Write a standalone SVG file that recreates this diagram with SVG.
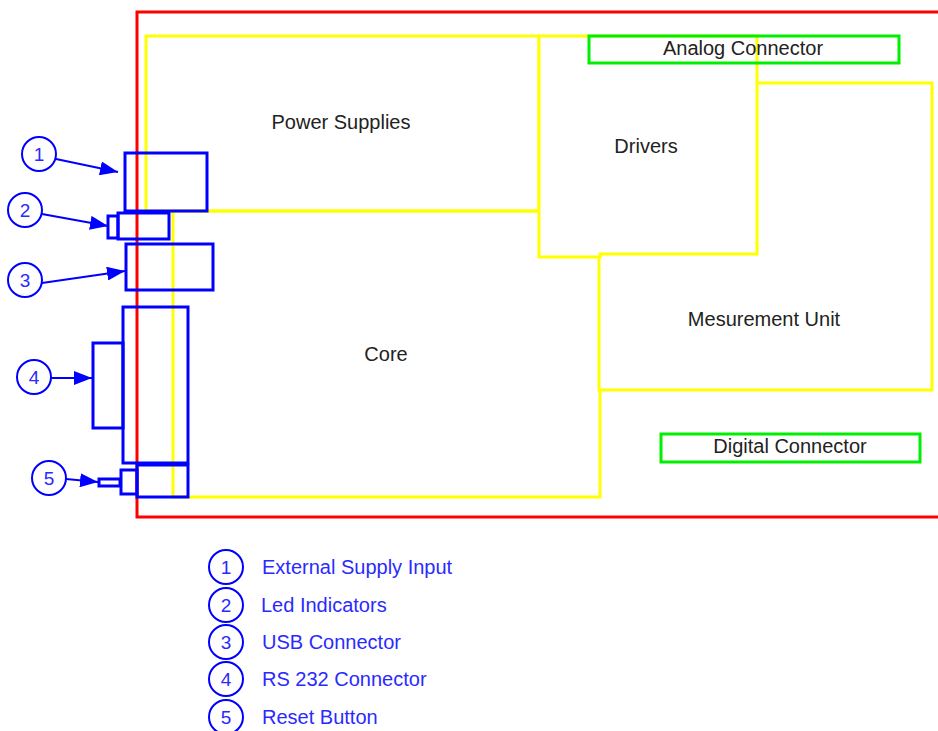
<svg xmlns="http://www.w3.org/2000/svg" width="938" height="731" viewBox="0 0 938 731">
<defs>
<marker id="ah" markerUnits="userSpaceOnUse" markerWidth="18" markerHeight="14" refX="18" refY="7" orient="auto">
<path d="M0,0 L18,7 L0,14 Z" fill="#0000ff"/>
</marker>
<style>
.red{fill:none;stroke:#ff0000;stroke-width:3}
.yel{fill:#ffffff;stroke:#ffff00;stroke-width:3}
.yeln{fill:none;stroke:#ffff00;stroke-width:3}
.grn{fill:none;stroke:#00ee00;stroke-width:3}
.blu{fill:none;stroke:#0000ff;stroke-width:3}
.lbl{font-family:"Liberation Sans",Arial,sans-serif;font-size:20px;fill:#222222;text-anchor:middle}
.num{font-family:"Liberation Sans",Arial,sans-serif;font-size:19px;fill:#2a2aff;text-anchor:middle}
.leg{font-family:"Liberation Sans",Arial,sans-serif;font-size:20px;fill:#2a2aff}
.cir{fill:#ffffff;stroke:#0000ff;stroke-width:2}
.con{fill:none;stroke:#0000ff;stroke-width:2;marker-end:url(#ah)}
</style>
</defs>
<rect width="938" height="731" fill="#ffffff"/>
<g id="board"><rect class="red" x="137" y="12" width="820" height="505"/></g>
<g id="core"><rect class="yel" x="173" y="211" width="427" height="286"/><text class="lbl" x="386" y="361">Core</text></g>
<g id="measurement"><rect class="yel" x="599" y="83" width="333" height="307"/><text class="lbl" x="764" y="326">Mesurement Unit</text></g>
<g id="power"><rect class="yeln" x="146" y="36" width="393" height="175"/><text class="lbl" x="341" y="129">Power Supplies</text></g>
<g id="drivers"><path class="yel" d="M539,36 H757 V254 H600 V257 H539 Z"/><text class="lbl" x="646" y="153">Drivers</text></g>
<g id="analog"><rect class="grn" x="589" y="36" width="310" height="27"/><text class="lbl" x="743" y="55">Analog Connector</text></g>
<g id="digital"><rect class="grn" x="661" y="434" width="259" height="28"/><text class="lbl" x="790" y="453">Digital Connector</text></g>
<g id="supply"><rect class="blu" x="125" y="153" width="82" height="58"/></g>
<g id="leds"><rect class="blu" x="108" y="216" width="10" height="22"/><rect class="blu" x="118" y="213" width="51" height="26"/></g>
<g id="usb"><rect class="blu" x="126" y="244" width="87" height="46"/></g>
<g id="rs232"><rect class="blu" x="93" y="343" width="30" height="85"/><rect class="blu" x="123" y="307" width="65" height="156"/></g>
<g id="reset"><rect class="blu" x="99" y="479" width="21" height="7"/><rect class="blu" x="121" y="470" width="16" height="24"/><rect class="blu" x="137" y="465" width="51" height="32"/></g>
<g id="connectors">
<line class="con" x1="56" y1="159" x2="118" y2="172"/>
<line class="con" x1="42" y1="214" x2="108" y2="226"/>
<line class="con" x1="42" y1="283" x2="125" y2="271"/>
<line class="con" x1="51" y1="378" x2="92" y2="378"/>
<line class="con" x1="66" y1="479" x2="98" y2="482"/>
</g>
<g id="c1"><circle class="cir" cx="39" cy="154" r="17"/><text class="num" x="39" y="161">1</text></g>
<g id="c2"><circle class="cir" cx="25" cy="210" r="17"/><text class="num" x="25" y="217">2</text></g>
<g id="c3"><circle class="cir" cx="25" cy="280" r="17"/><text class="num" x="25" y="287">3</text></g>
<g id="c4"><circle class="cir" cx="34" cy="377" r="17"/><text class="num" x="34" y="384">4</text></g>
<g id="c5"><circle class="cir" cx="49" cy="478" r="17"/><text class="num" x="49" y="485">5</text></g>
<g id="legend">
<circle class="cir" cx="226" cy="567" r="17"/><text class="num" x="226" y="574">1</text><text class="leg" x="262" y="574">External Supply Input</text>
<circle class="cir" cx="226" cy="605" r="17"/><text class="num" x="226" y="612">2</text><text class="leg" x="261" y="612">Led Indicators</text>
<circle class="cir" cx="226" cy="642" r="17"/><text class="num" x="226" y="649">3</text><text class="leg" x="262" y="649">USB Connector</text>
<circle class="cir" cx="226" cy="679" r="17"/><text class="num" x="226" y="686">4</text><text class="leg" x="262" y="686">RS 232 Connector</text>
<circle class="cir" cx="226" cy="717" r="17"/><text class="num" x="226" y="724">5</text><text class="leg" x="262" y="724">Reset Button</text>
</g>
</svg>
